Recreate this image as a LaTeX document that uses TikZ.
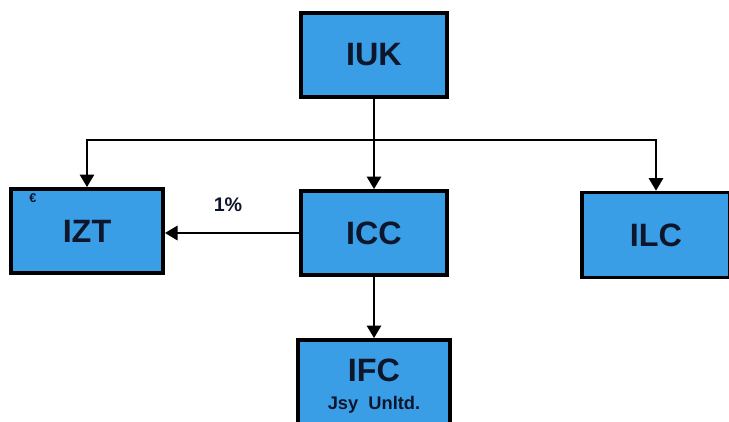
\documentclass[tikz,border=0pt]{standalone}
\usepackage{fontspec}
\setmainfont{Liberation Sans}
\usetikzlibrary{arrows.meta}
\definecolor{boxblue}{RGB}{58,158,230}
\definecolor{inkblue}{RGB}{14,22,44}

\begin{document}
\begin{tikzpicture}[x=0.025cm, y=-0.025cm,
		unit/.style={draw=black, fill=boxblue, line width=2.6pt, minimum width=3.65cm, minimum height=2.1cm,
			inner sep=0pt, text=inkblue, font=\fontsize{23}{25}\selectfont\bfseries},
		link/.style={line width=2pt, -{Triangle[length=9pt, width=10pt]}}]
			\useasboundingbox (0,0) rectangle (729,421);
			\clip (0,0) rectangle (729,421);
			% group companies
			\node[unit] (iuk) at (374,55) {IUK};
			\node[unit, minimum width=3.8cm] (izt) at (87,231) {IZT};
			\node[unit] (icc) at (374,233) {ICC};
			\node[unit, minimum width=3.7cm, minimum height=2.12cm] (ilc) at (656,235) {ILC};
			\node[unit, minimum width=3.8cm, minimum height=2.3cm, align=center] (ifc) at (374,386)
				{IFC\\[-5pt]{\fontsize{13}{14}\selectfont Jsy\ \ Unltd.}};
			\node[text=inkblue, font=\fontsize{9}{10}\selectfont\bfseries] (eur) at (33,198) {€};
			% holdings
			\coordinate (bus) at (374,140);
			\draw[link] (iuk) -- (icc);
			\draw[link] (bus) -| (izt.north);
			\draw[link] (bus) -| (ilc.north);
			\draw[link] (icc.west) -- (icc.west -| izt.east);
			\draw[link] (icc) -- (ifc);
			\node[text=inkblue, font=\fontsize{14}{16}\selectfont\bfseries] (share) at (228,205) {1\%};
\end{tikzpicture}
\end{document}
